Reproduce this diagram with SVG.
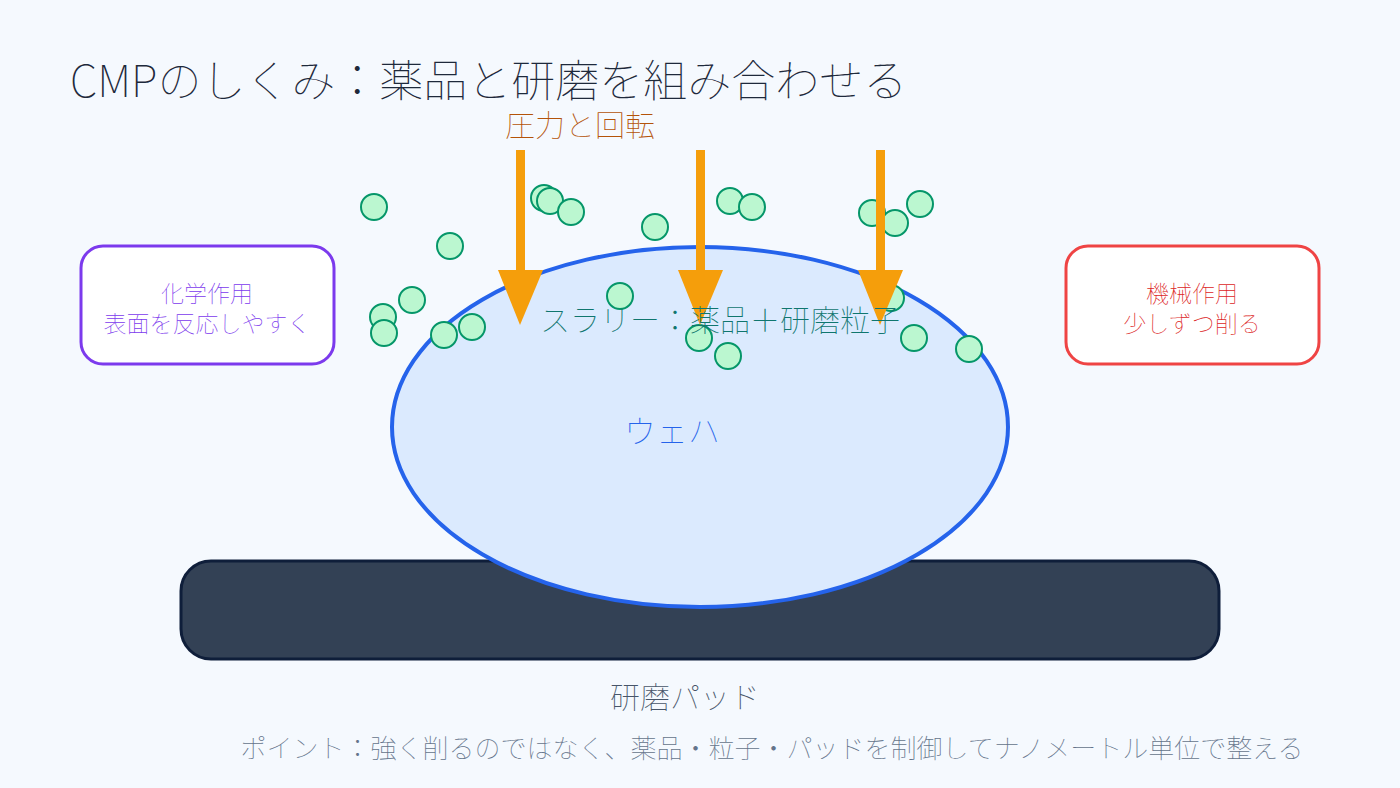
<svg xmlns="http://www.w3.org/2000/svg" width="1400" height="788" viewBox="0 0 1400 788">
<style>
text{font-family:"Noto Sans CJK JP","Noto Sans",sans-serif;font-weight:100}
.p{fill:#bbf7d0;stroke:#059669;stroke-width:2}
.box{fill:#ffffff;stroke-width:3}
.arr{fill:#f59e0b}
</style>
<rect width="1400" height="788" fill="#f5f9fe"/>
<text x="70" y="97" font-size="44" fill="#1e293b">CMPのしくみ：薬品と研磨を組み合わせる</text>
<g id="pad">
<rect x="181" y="561" width="1038" height="98" rx="30" fill="#334155" stroke="#0f1e3a" stroke-width="3"/>
</g>
<g id="wafer">
<ellipse cx="700" cy="427" rx="308" ry="180" fill="#dbeafe" stroke="#2563eb" stroke-width="4"/>
</g>
<g id="particles">
<circle class="p" cx="374" cy="207" r="13"/>
<circle class="p" cx="450" cy="246" r="13"/>
<circle class="p" cx="544" cy="198" r="13"/>
<circle class="p" cx="550" cy="201" r="13"/>
<circle class="p" cx="571" cy="212" r="13"/>
<circle class="p" cx="655" cy="227" r="13"/>
<circle class="p" cx="730" cy="201" r="13"/>
<circle class="p" cx="752" cy="207" r="13"/>
<circle class="p" cx="872" cy="213" r="13"/>
<circle class="p" cx="895" cy="223" r="13"/>
<circle class="p" cx="920" cy="204" r="13"/>
<circle class="p" cx="412" cy="300" r="13"/>
<circle class="p" cx="383" cy="317" r="13"/>
<circle class="p" cx="384" cy="333" r="13"/>
<circle class="p" cx="444" cy="335" r="13"/>
<circle class="p" cx="472" cy="327" r="13"/>
<circle class="p" cx="620" cy="296" r="13"/>
<circle class="p" cx="891" cy="298" r="13"/>
<circle class="p" cx="699" cy="338" r="13"/>
<circle class="p" cx="728" cy="356" r="13"/>
<circle class="p" cx="914" cy="338" r="13"/>
<circle class="p" cx="969" cy="349" r="13"/>
</g>
<g id="connectors">
<rect class="arr" x="516" y="150" width="9" height="122"/>
<polygon class="arr" points="498,270 543,270 520,325"/>
<rect class="arr" x="696" y="150" width="9" height="122"/>
<polygon class="arr" points="678,270 723,270 700,325"/>
<rect class="arr" x="876" y="150" width="9" height="122"/>
<polygon class="arr" points="858,270 903,270 880,325"/>
</g>
<text x="580" y="136" font-size="30" fill="#b45309" text-anchor="middle">圧力と回転</text>
<text x="720" y="331" font-size="30" fill="#0f766e" text-anchor="middle">スラリー：薬品＋研磨粒子</text>
<text x="672" y="443" font-size="32" fill="#2563eb" text-anchor="middle">ウェハ</text>
<g id="chem">
<rect class="box" x="81" y="246" width="253" height="118" rx="22" stroke="#7c3aed"/>
<text x="207" y="302" font-size="23" fill="#7c3aed" text-anchor="middle">化学作用</text>
<text x="207" y="332" font-size="23" fill="#7c3aed" text-anchor="middle">表面を反応しやすく</text>
</g>
<g id="mech">
<rect class="box" x="1066" y="246" width="253" height="118" rx="22" stroke="#ef4444"/>
<text x="1192" y="302" font-size="23" fill="#dc2626" text-anchor="middle">機械作用</text>
<text x="1192" y="332" font-size="23" fill="#dc2626" text-anchor="middle">少しずつ削る</text>
</g>
<text x="685" y="708" font-size="30" fill="#475569" text-anchor="middle">研磨パッド</text>
<text x="772" y="758" font-size="26" fill="#64748b" text-anchor="middle">ポイント：強く削るのではなく、薬品・粒子・パッドを制御してナノメートル単位で整える</text>
</svg>
